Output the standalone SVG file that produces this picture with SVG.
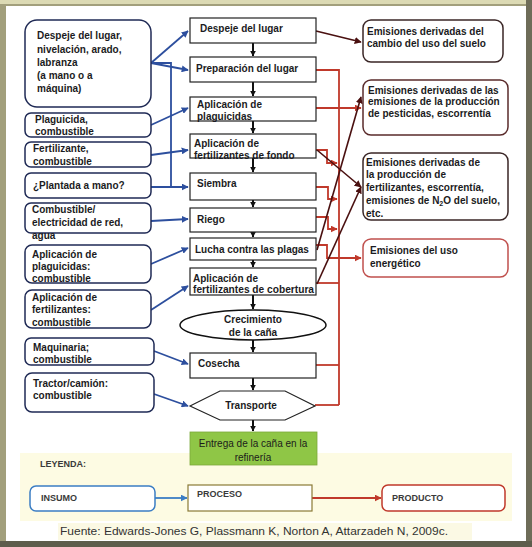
<svg xmlns="http://www.w3.org/2000/svg" width="532" height="547" viewBox="0 0 532 547">
<style>
.t{font-family:"Liberation Sans",Arial,sans-serif;font-weight:bold;font-size:10px;fill:#1b1b22}
.tr{font-family:"Liberation Sans",Arial,sans-serif;font-size:10px;fill:#1b1b1b}
.in{fill:#fff;stroke:#1f2a55;stroke-width:1.5}
.pr{fill:#fff;stroke:#222;stroke-width:1.2}
.out{fill:#fff;stroke:#3a2626;stroke-width:1.5}
.bl{fill:none;stroke:#2d4f9e;stroke-width:1.8}
.rd{fill:none;stroke:#c0392b;stroke-width:1.8}
.dk{fill:none;stroke:#4a1010;stroke-width:1.6}
.bk{fill:none;stroke:#111;stroke-width:2}
.lg{font-family:"Liberation Sans",Arial,sans-serif;font-weight:bold;font-size:9px;fill:#3a3a3a}
</style>
<defs>
<marker id="ab" viewBox="0 0 10 10" refX="9" refY="5" markerWidth="7" markerHeight="7" markerUnits="userSpaceOnUse" orient="auto"><path d="M0,0L10,5L0,10z" fill="#2d4f9e"/></marker>
<marker id="ar" viewBox="0 0 10 10" refX="9" refY="5" markerWidth="7" markerHeight="7" markerUnits="userSpaceOnUse" orient="auto"><path d="M0,0L10,5L0,10z" fill="#c0392b"/></marker>
<marker id="ad" viewBox="0 0 10 10" refX="9" refY="5" markerWidth="7" markerHeight="7" markerUnits="userSpaceOnUse" orient="auto"><path d="M0,0L10,5L0,10z" fill="#4a1010"/></marker>
<marker id="ak" viewBox="0 0 10 10" refX="9" refY="5" markerWidth="6" markerHeight="6" markerUnits="userSpaceOnUse" orient="auto"><path d="M0,0L10,5L0,10z" fill="#111"/></marker>
<marker id="al" viewBox="0 0 10 10" refX="9" refY="5" markerWidth="7" markerHeight="7" markerUnits="userSpaceOnUse" orient="auto"><path d="M0,0L10,5L0,10z" fill="#3b7dc4"/></marker>
</defs>
<!-- frame -->
<rect x="0" y="0" width="532" height="547" fill="#a29f7c"/>
<rect x="0" y="0" width="532" height="4" fill="#dcdab4"/>
<rect x="526" y="0" width="6" height="547" fill="#6e6c58"/>
<rect x="0" y="541" width="532" height="6" fill="#5e5d4c"/>
<rect x="6" y="6" width="520" height="535" fill="#ffffff"/>
<!-- legend band -->
<rect x="20" y="453" width="492" height="68" fill="#fdfbe3"/>
<rect x="58" y="523" width="414" height="17" fill="#fbf9e4"/>

<g id="connectors">
<g class="bk">
<path d="M253,43V56" marker-end="url(#ak)"/>
<path d="M253,82V96" marker-end="url(#ak)"/>
<path d="M253,121V133" marker-end="url(#ak)"/>
<path d="M253,158V172" marker-end="url(#ak)"/>
<path d="M253,200V207" marker-end="url(#ak)"/>
<path d="M253,232V237" marker-end="url(#ak)"/>
<path d="M253,260V267" marker-end="url(#ak)"/>
<path d="M253,295V309" marker-end="url(#ak)"/>
<path d="M253,340V352" marker-end="url(#ak)"/>
<path d="M253,378V390" marker-end="url(#ak)"/>
<path d="M253,420V431" marker-end="url(#ak)"/>
</g>
<g class="bl">
<path d="M151,63L188,31" marker-end="url(#ab)"/>
<path d="M151,63L188,70" marker-end="url(#ab)"/>
<path d="M151,63H171V187"/>
<path d="M151,125L188,108" marker-end="url(#ab)"/>
<path d="M151,155L188,150" marker-end="url(#ab)"/>
<path d="M151,187L188,187" marker-end="url(#ab)"/>
<path d="M151,221L188,219" marker-end="url(#ab)"/>
<path d="M151,264L188,248" marker-end="url(#ab)"/>
<path d="M151,310L188,286" marker-end="url(#ab)"/>
<path d="M154,351L188,364" marker-end="url(#ab)"/>
<path d="M154,394L188,406" marker-end="url(#ab)"/>
</g>
<g class="rd">
<path d="M316,70H339V405"/>
<path d="M316,108H361" marker-end="url(#ar)"/>
<path d="M316,150H327V163H337" marker-end="url(#ar)"/>
<path d="M316,187H328V199H337" marker-end="url(#ar)"/>
<path d="M316,217H328V229H337" marker-end="url(#ar)"/>
<path d="M316,245H327V258H361" marker-end="url(#ar)"/>
<path d="M316,283H339"/>
<path d="M316,365H339"/>
<path d="M315,405H339"/>
</g>
<g class="dk">
<path d="M316,31L361,42" marker-end="url(#ad)"/>
<path d="M317,250L361,97" marker-end="url(#ad)"/>
<path d="M317,150L361,187" marker-end="url(#ad)"/>
<path d="M317,284L361,187" marker-end="url(#ad)"/>
</g>
<path d="M155,498H187" fill="none" stroke="#3b7dc4" stroke-width="1.8" marker-end="url(#al)"/>
<path d="M312,498H381" fill="none" stroke="#c0392b" stroke-width="1.8" marker-end="url(#ar)"/>
</g>

<!-- inputs -->
<g id="in1"><rect class="in" x="25" y="20" width="126" height="87" rx="12"/>
<text class="t" x="37" y="39">Despeje del lugar,</text><text class="t" x="37" y="53">nivelación, arado,</text><text class="t" x="37" y="66">labranza</text><text class="t" x="37" y="79">(a mano o a</text><text class="t" x="37" y="92">máquina)</text></g>
<g id="in2"><rect class="in" x="25" y="113" width="126" height="24" rx="6"/>
<text class="t" x="35" y="123">Plaguicida,</text><text class="t" x="35" y="135">combustible</text></g>
<g id="in3"><rect class="in" x="25" y="142" width="126" height="25" rx="6"/>
<text class="t" x="33" y="152">Fertilizante,</text><text class="t" x="33" y="165">combustible</text></g>
<g id="in4"><rect class="in" x="25" y="173" width="126" height="25" rx="6"/>
<text class="t" x="33" y="189">¿Plantada a mano?</text></g>
<g id="in5"><rect class="in" x="25" y="203" width="126" height="30" rx="6"/>
<text class="t" x="32" y="213">Combustible/</text><text class="t" x="32" y="226">electricidad de red,</text><text class="t" x="32" y="239">agua</text></g>
<g id="in6"><rect class="in" x="25" y="245" width="126" height="38" rx="7"/>
<text class="t" x="32" y="258">Aplicación de</text><text class="t" x="32" y="270">plaguicidas:</text><text class="t" x="32" y="282">combustible</text></g>
<g id="in7"><rect class="in" x="25" y="290" width="126" height="38" rx="7"/>
<text class="t" x="32" y="301">Aplicación de</text><text class="t" x="32" y="313">fertilizantes:</text><text class="t" x="32" y="326">combustible</text></g>
<g id="in8"><rect class="in" x="25" y="338" width="129" height="27" rx="6"/>
<text class="t" x="33" y="351">Maquinaria;</text><text class="t" x="33" y="363">combustible</text></g>
<g id="in9"><rect class="in" x="25" y="373" width="129" height="39" rx="7"/>
<text class="t" x="33" y="387">Tractor/camión:</text><text class="t" x="33" y="399">combustible</text></g>

<!-- processes -->
<g id="p1"><rect class="pr" x="190" y="18" width="126" height="25"/><text class="t" x="200" y="32">Despeje del lugar</text></g>
<g id="p2"><rect class="pr" x="190" y="57" width="126" height="25"/><text class="t" x="196" y="72">Preparación del lugar</text></g>
<g id="p3"><rect class="pr" x="190" y="97" width="126" height="24"/><text class="t" x="197" y="108">Aplicación de</text><text class="t" x="197" y="120">plaguicidas</text></g>
<g id="p4"><rect class="pr" x="190" y="134" width="126" height="24"/><text class="t" x="194" y="147">Aplicación de</text><text class="t" x="194" y="159">fertilizantes de fondo</text></g>
<g id="p5"><rect class="pr" x="190" y="173" width="126" height="27"/><text class="t" x="197" y="187">Siembra</text></g>
<g id="p6"><rect class="pr" x="190" y="208" width="126" height="24"/><text class="t" x="197" y="223">Riego</text></g>
<g id="p7"><rect class="pr" x="190" y="238" width="126" height="22"/><text class="t" x="195" y="253">Lucha contra las plagas</text></g>
<g id="p8"><rect class="pr" x="190" y="268" width="126" height="27"/><text class="t" x="193" y="282">Aplicación de</text><text class="t" x="193" y="293" textLength="121" lengthAdjust="spacingAndGlyphs">fertilizantes de cobertura</text></g>
<g id="p9"><ellipse cx="253" cy="325" rx="73" ry="15" fill="#fff" stroke="#111" stroke-width="1.5"/><text class="t" x="253" y="323" text-anchor="middle">Crecimiento</text><text class="t" x="253" y="336" text-anchor="middle">de la caña</text></g>
<g id="p10"><rect class="pr" x="190" y="353" width="126" height="25"/><text class="t" x="198" y="367">Cosecha</text></g>
<g id="p11"><polygon class="pr" points="190,406 220,391 285,391 315,406 285,420 220,420"/><text class="t" x="251" y="409" text-anchor="middle">Transporte</text></g>
<g id="p12"><rect x="190" y="432" width="127" height="33" fill="#8fc646" stroke="#7aa83a" stroke-width="0.8"/><text class="tr" x="253" y="447" text-anchor="middle">Entrega de la caña en la</text><text class="tr" x="253" y="461" text-anchor="middle">refinería</text></g>

<!-- outputs -->
<g id="o1"><rect class="out" x="363" y="20" width="140" height="42" rx="8"/><text class="t" x="367" y="35">Emisiones derivadas del</text><text class="t" x="367" y="47">cambio del uso del suelo</text></g>
<g id="o2"><rect class="out" x="363" y="80" width="145" height="55" rx="8" style="stroke:#5a2b2b"/><text class="t" x="368" y="94">Emisiones derivadas de las</text><text class="t" x="368" y="105">emisiones de la producción</text><text class="t" x="368" y="117">de pesticidas, escorrentía</text></g>
<g id="o3"><rect class="out" x="363" y="153" width="145" height="67" rx="8"/><text class="t" x="366" y="166">Emisiones derivadas de</text><text class="t" x="366" y="178">la producción de</text><text class="t" x="366" y="191">fertilizantes, escorrentía,</text><text class="t" x="366" y="204">emisiones de N<tspan font-size="7" dy="2">2</tspan><tspan dy="-2">O del suelo,</tspan></text><text class="t" x="366" y="217">etc.</text></g>
<g id="o4"><rect class="out" x="363" y="239" width="145" height="38" rx="8" style="stroke:#c0504d"/><text class="t" x="370" y="254">Emisiones del uso</text><text class="t" x="370" y="267">energético</text></g>

<!-- legend -->
<g id="legend">
<text class="lg" x="40" y="467">LEYENDA:</text>
<rect x="30" y="486" width="125" height="25" rx="6" fill="#fff" stroke="#3b7dc4" stroke-width="1.5"/>
<text class="lg" x="41" y="501">INSUMO</text>
<rect x="188" y="485" width="124" height="26" fill="#fff" stroke="#8a7a35" stroke-width="1.2"/>
<text class="lg" x="197" y="497">PROCESO</text>
<rect x="382" y="485" width="123" height="26" rx="6" fill="#fff" stroke="#c0392b" stroke-width="1.5"/>
<text class="lg" x="392" y="501">PRODUCTO</text>
<text x="60" y="535" font-family="Liberation Sans,Arial,sans-serif" font-size="11" fill="#333" textLength="388" lengthAdjust="spacingAndGlyphs">Fuente: Edwards-Jones G, Plassmann K, Norton A, Attarzadeh N, 2009c.</text>
</g>
</svg>
